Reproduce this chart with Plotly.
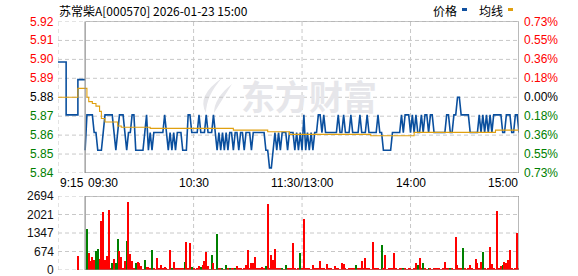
import plotly.graph_objects as go

W, H = 578, 276

# ---------------- data ----------------
prev_close = 5.88
max_dev = 0.0429          # axis half-range (0.73%)

# minute index: 0 = 09:30, 120 = 11:30/13:00, 240 = 15:00 ; negative = pre-market auction
price = [
    5.85, 5.87, 5.87, 5.87, 5.87, 5.86, 5.86, 5.85, 5.85, 5.85,
    5.86, 5.87, 5.87, 5.87, 5.87, 5.87, 5.86, 5.85, 5.86, 5.87,
    5.87, 5.87, 5.86, 5.85, 5.86, 5.86, 5.87, 5.87, 5.85, 5.85,
    5.85, 5.85, 5.85, 5.86, 5.87, 5.85, 5.86, 5.85, 5.86, 5.86,
    5.86, 5.86, 5.86, 5.86, 5.87, 5.86, 5.85, 5.86, 5.85, 5.86,
    5.85, 5.86, 5.86, 5.86, 5.85, 5.85, 5.85, 5.87, 5.87, 5.86,
    5.86, 5.86, 5.86, 5.87, 5.86, 5.86, 5.86, 5.87, 5.86, 5.86,
    5.86, 5.87, 5.86, 5.85, 5.86, 5.85, 5.86, 5.85, 5.86, 5.85,
    5.86, 5.86, 5.85, 5.86, 5.86, 5.85, 5.86, 5.86, 5.85, 5.86,
    5.86, 5.86, 5.85, 5.86, 5.86, 5.86, 5.86, 5.86, 5.86, 5.86,
    5.85, 5.85, 5.84, 5.84, 5.85, 5.86, 5.85, 5.86, 5.85, 5.86,
    5.86, 5.86, 5.85, 5.86, 5.86, 5.86, 5.85, 5.86, 5.85, 5.86,
    5.85, 5.87, 5.85, 5.86, 5.85, 5.86, 5.85, 5.86, 5.86, 5.87,
    5.87, 5.86, 5.87, 5.86, 5.86, 5.86, 5.86, 5.86, 5.86, 5.86,
    5.87, 5.86, 5.86, 5.87, 5.86, 5.86, 5.86, 5.87, 5.86, 5.86,
    5.86, 5.86, 5.87, 5.86, 5.86, 5.86, 5.87, 5.86, 5.86, 5.86,
    5.86, 5.86, 5.87, 5.86, 5.86, 5.85, 5.85, 5.85, 5.85, 5.85,
    5.86, 5.86, 5.86, 5.86, 5.86, 5.87, 5.86, 5.87, 5.87, 5.87,
    5.86, 5.87, 5.86, 5.87, 5.86, 5.86, 5.87, 5.86, 5.87, 5.87,
    5.86, 5.87, 5.87, 5.86, 5.86, 5.86, 5.86, 5.86, 5.86, 5.86,
    5.87, 5.87, 5.86, 5.86, 5.87, 5.87, 5.88, 5.88, 5.87, 5.87,
    5.87, 5.87, 5.87, 5.86, 5.86, 5.86, 5.86, 5.86, 5.87, 5.86,
    5.87, 5.86, 5.87, 5.86, 5.87, 5.86, 5.87, 5.87, 5.87, 5.87,
    5.87, 5.86, 5.86, 5.87, 5.87, 5.87, 5.86, 5.86, 5.87, 5.87,
    5.86,
]
minutes = list(range(len(price)))

avg_x = [0, 1, 2, 4, 6, 8, 9, 11, 18, 20, 36, 82, 101, 113, 158, 182, 227, 240]
avg_y = [5.885, 5.880, 5.8775, 5.8765, 5.875, 5.872, 5.868, 5.866, 5.8637, 5.863,
         5.8624, 5.8614, 5.8605, 5.859, 5.8582, 5.8601, 5.8614, 5.8614]

pre_x = [-15, -10.5, -4, 0]
pre_price = [5.90, 5.87, 5.89, 5.89]
pre_avg_x = [-15, -4, 0]
pre_avg = [5.88, 5.885, 5.885]

vol = [
    0, 1480, 630, 330, 470, 360, 690, 780, 400, 1780,
    2100, 360, 510, 2180, 40, 240, 400, 270, 1120, 690,
    490, 50, 330, 1060, 2470, 600, 330, 50, 240, 280,
    240, 150, 30, 360, 120, 120, 40, 730, 40, 30,
    420, 40, 200, 40, 100, 40, 30, 730, 50, 300,
    40, 50, 40, 60, 40, 300, 1020, 40, 980, 120,
    40, 30, 40, 140, 100, 200, 330, 660, 140, 30,
    550, 240, 30, 1310, 80, 40, 50, 30, 180, 50,
    60, 40, 80, 50, 140, 40, 50, 30, 60, 180,
    730, 40, 250, 270, 490, 40, 50, 40, 100, 40,
    140, 2400, 50, 550, 360, 780, 40, 60, 50, 40,
    30, 180, 40, 50, 40, 1000, 50, 30, 40, 630,
    60, 1860, 40, 50, 40, 30, 180, 90, 40, 50,
    330, 40, 50, 30, 220, 40, 50, 30, 140, 80,
    40, 30, 250, 220, 40, 30, 60, 40, 60, 40,
    180, 40, 50, 330, 40, 440, 50, 40, 30, 1020,
    40, 50, 40, 30, 910, 40, 550, 30, 40, 50,
    40, 620, 40, 30, 40, 50, 50, 40, 30, 40,
    50, 30, 40, 250, 180, 440, 40, 250, 40, 30,
    60, 40, 30, 40, 50, 60, 40, 30, 40, 290,
    40, 60, 50, 40, 30, 1200, 180, 40, 40, 800,
    40, 30, 40, 180, 40, 30, 400, 250, 40, 290,
    660, 40, 30, 40, 840, 220, 40, 30, 2150, 40,
    150, 200, 290, 250, 350, 730, 40, 30, 40, 1350,
    40,
]
green_minutes = [1, 6, 7, 15, 17, 18, 23, 28, 33, 37, 48, 55, 59, 64, 70, 73, 76, 78, 80,
                 83, 100, 109, 111, 119, 150, 164, 176, 184, 187, 190, 202, 209, 220, 231]
pre_vol_x = [-4]
pre_vol = [510]
vol_max = 2694

price_labels = ["5.92", "5.91", "5.90", "5.89", "5.88", "5.87", "5.86", "5.85", "5.84"]
pct_labels = ["0.73%", "0.55%", "0.36%", "0.18%", "0.00%", "0.18%", "0.36%", "0.55%", "0.73%"]
vol_labels = ["2694", "2021", "1347", "674", "0"]
time_pos = [-15, 0, 60, 120, 180, 240]
time_labels = ["9:15", "09:30", "10:30", "11:30/13:00", "14:00", "15:00"]

title = "苏常柴A[000570] 2026-01-23 15:00"

# ---------------- layout helpers ----------------
def px(x):
    return x / W

def py(y):
    return 1 - y / H

RED, GREEN, BLACK = "#ff0000", "#008000", "#000000"
BLUE, GOLD = "#0a4f9e", "#e0a010"
GRID, BOX = "#c8c8c8", "#8c8c8c"
NUMFONT = "Liberation Sans, Arial, sans-serif"
CJK = "Noto Sans CJK SC, sans-serif"

ylo, yhi = prev_close - max_dev, prev_close + max_dev
grid_vals = [prev_close + max_dev * k / 4 for k in range(4, -5, -1)]
vol_grid = [vol_max * k / 4 for k in range(4, -1, -1)]

fig = go.Figure()

# price traces
fig.add_trace(go.Scatter(x=pre_x, y=pre_price, mode="lines", line=dict(color=BLUE, width=1.6, shape="hv"),
                         xaxis="x", yaxis="y", hoverinfo="skip"))
fig.add_trace(go.Scatter(x=minutes, y=price, mode="lines", line=dict(color=BLUE, width=1.6),
                         xaxis="x", yaxis="y", hoverinfo="skip"))
fig.add_trace(go.Scatter(x=pre_avg_x, y=pre_avg, mode="lines", line=dict(color=GOLD, width=1.1, shape="hv"),
                         xaxis="x", yaxis="y", hoverinfo="skip"))
fig.add_trace(go.Scatter(x=avg_x, y=avg_y, mode="lines", line=dict(color=GOLD, width=1.1, shape="hv"),
                         xaxis="x", yaxis="y", hoverinfo="skip"))

# volume bars
green_set = set(green_minutes)
colors = [GREEN if m in green_set else RED for m in minutes]
fig.add_trace(go.Bar(x=minutes, y=vol, marker=dict(color=colors, line=dict(width=0)), width=0.6,
                     xaxis="x2", yaxis="y2", hoverinfo="skip"))
fig.add_trace(go.Bar(x=pre_vol_x, y=pre_vol, marker=dict(color=RED, line=dict(width=0)), width=0.6,
                     xaxis="x2", yaxis="y2", hoverinfo="skip"))

x_dom = [px(58), px(519)]
price_dom = [py(173), py(21.5)]
vol_dom = [py(270), py(196)]

axis_common = dict(showgrid=False, zeroline=False, showticklabels=False, showline=False, ticks="")
fig.update_layout(
    width=W, height=H, margin=dict(l=0, r=0, t=0, b=0),
    paper_bgcolor="white", plot_bgcolor="white", showlegend=False, bargap=0,
    xaxis=dict(domain=x_dom, range=[-15, 240], anchor="y", **axis_common),
    yaxis=dict(domain=price_dom, range=[ylo, yhi], anchor="x", **axis_common),
    xaxis2=dict(domain=x_dom, range=[-15, 240], anchor="y2", matches="x", **axis_common),
    yaxis2=dict(domain=vol_dom, range=[0, vol_max], anchor="x2", **axis_common),
)

shapes = []
dash = "4px,3px"
# watermark (behind)
shapes.append(dict(type="path", xref="paper", yref="paper", layer="below",
                   path=(f"M {px(222)} {py(78)} Q {px(196)} {py(96)} {px(206)} {py(113)} "
                         f"Q {px(206)} {py(96)} {px(222)} {py(78)} Z"),
                   fillcolor="#e6e6ea", line=dict(width=0)))
shapes.append(dict(type="path", xref="paper", yref="paper", layer="below",
                   path=(f"M {px(232)} {py(84)} Q {px(214)} {py(98)} {px(214)} {py(113)} "
                         f"Q {px(222)} {py(100)} {px(232)} {py(84)} Z"),
                   fillcolor="#e6e6ea", line=dict(width=0)))
for g in grid_vals:
    shapes.append(dict(type="line", xref="x", yref="y", x0=-15, x1=240, y0=g, y1=g,
                       line=dict(color=GRID, width=1, dash=dash), layer="below"))
for g in vol_grid:
    shapes.append(dict(type="line", xref="x2", yref="y2", x0=-15, x1=240, y0=g, y1=g,
                       line=dict(color=GRID, width=1, dash=dash), layer="below"))
for v in [-15, 60, 120, 180]:
    shapes.append(dict(type="line", xref="x", yref="y", x0=v, x1=v, y0=ylo, y1=yhi,
                       line=dict(color=GRID, width=1, dash=dash), layer="below"))
    shapes.append(dict(type="line", xref="x2", yref="y2", x0=v, x1=v, y0=0, y1=vol_max,
                       line=dict(color=GRID, width=1, dash=dash), layer="below"))
shapes.append(dict(type="rect", xref="x", yref="y", x0=0, x1=240, y0=ylo, y1=yhi,
                   line=dict(color=BOX, width=1.2), fillcolor="rgba(0,0,0,0)"))
shapes.append(dict(type="rect", xref="x2", yref="y2", x0=0, x1=240, y0=0, y1=vol_max,
                   line=dict(color=BOX, width=1.2), fillcolor="rgba(0,0,0,0)"))
# legend swatches
shapes.append(dict(type="rect", xref="paper", yref="paper", x0=px(462), x1=px(467), y0=py(11), y1=py(8),
                   fillcolor="#1050a0", line=dict(width=0)))
shapes.append(dict(type="rect", xref="paper", yref="paper", x0=px(508), x1=px(513), y0=py(11), y1=py(8),
                   fillcolor="#e0a010", line=dict(width=0)))
fig.update_layout(shapes=shapes)

ann = []
ann.append(dict(text="东方财富", x=px(309), y=py(95), xref="paper", yref="paper", showarrow=False,
                xanchor="center", yanchor="middle",
                font=dict(family=CJK, size=34, color="#e6e6ea", weight=700)))
for i, (g, lab, pl) in enumerate(zip(grid_vals, price_labels, pct_labels)):
    c = RED if i < 4 else (BLACK if i == 4 else GREEN)
    ann.append(dict(text=lab, x=px(56), y=g, xref="paper", yref="y", showarrow=False,
                    xanchor="right", yanchor="middle", font=dict(family=NUMFONT, size=12, color=c)))
    ann.append(dict(text=pl, x=px(522), y=g, xref="paper", yref="y", showarrow=False,
                    xanchor="left", yanchor="middle", font=dict(family=NUMFONT, size=12, color=c)))
for g, lab in zip(vol_grid, vol_labels):
    ann.append(dict(text=lab, x=px(56), y=g, xref="paper", yref="y2", showarrow=False,
                    xanchor="right", yanchor="middle", font=dict(family=NUMFONT, size=12, color="#101010")))
anchors = ["left", "left", "center", "center", "center", "right"]
for tp, lab, an in zip(time_pos, time_labels, anchors):
    xp = x_dom[0] + (tp + 15) / 255 * (x_dom[1] - x_dom[0])
    if lab == "09:30":
        xp = px(86)
    if lab == "15:00":
        xp = px(520)
    ann.append(dict(text=lab, x=xp, y=py(182.5), xref="paper", yref="paper", showarrow=False,
                    xanchor=an, yanchor="middle", font=dict(family=NUMFONT, size=12, color=BLACK)))
ann.append(dict(text=title, x=px(57), y=py(10), xref="paper", yref="paper", showarrow=False,
                xanchor="left", yanchor="middle", font=dict(family=CJK, size=12, color=BLACK)))
ann.append(dict(text="价格", x=px(431), y=py(10), xref="paper", yref="paper", showarrow=False,
                xanchor="left", yanchor="middle", font=dict(family=CJK, size=12, color=BLACK)))
ann.append(dict(text="均线", x=px(477), y=py(10), xref="paper", yref="paper", showarrow=False,
                xanchor="left", yanchor="middle", font=dict(family=CJK, size=12, color=BLACK)))
fig.update_layout(annotations=ann)

fig.write_html("out.html")
